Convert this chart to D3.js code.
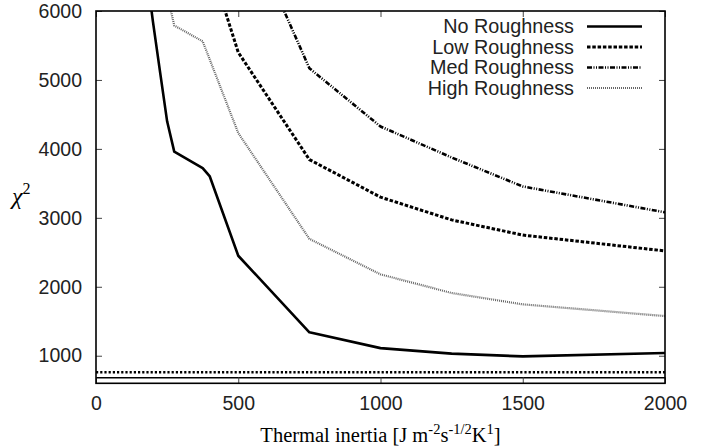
<!DOCTYPE html>
<html>
<head>
<meta charset="utf-8">
<script src="https://cdn.jsdelivr.net/npm/d3@7"></script>
<style>
  body { margin: 0; background: #fff; }
  svg { display: block; }
</style>
</head>
<body>
<svg id="chart" width="718" height="448"></svg>
<script>
var width = 718, height = 448

// chi^2 vs thermal inertia, one array per roughness case
var noRough = [[175, 6650], [200, 5850], [225, 5120], [250, 4400], [275, 3960], [375, 3720], [400, 3600],
  [500, 2450], [750, 1340], [1000, 1110], [1250, 1030], [1500, 990], [2000, 1040]]
var lowRough = [[400, 6700], [500, 5400], [750, 3845], [1000, 3300], [1250, 2970], [1500, 2750], [2000, 2520]]
var medRough = [[600, 6570], [750, 5170], [1000, 4325], [1250, 3875], [1500, 3455], [2000, 3080]]
var highRough = [[250, 6250], [275, 5790], [375, 5560], [500, 4230], [750, 2695], [1000, 2180],
  [1250, 1910], [1500, 1745], [2000, 1575]]

var seriesNames = ['No Roughness', 'Low Roughness', 'Med Roughness', 'High Roughness']
var refLevels = [760, 680]   // horizontal lines near the bottom

var xTicks = [0, 500, 1000, 1500, 2000]
var yTicks = [1000, 2000, 3000, 4000, 5000, 6000]

var styles = [
  { stroke: '#000', width: 2.6, dash: null },
  { stroke: '#000', width: 3, dash: '3.5,1.8' },
  { stroke: '#000', width: 2.6, dash: '5,1.5,1,1.5,1,1.5' },
  { stroke: '#666', width: 2.2, dash: '1,1' }
]
var refStyles = [
  { stroke: '#000', width: 2.6, dash: '2.2,2' },
  { stroke: '#000', width: 1.6, dash: null }
]

// plot box (window.top is reserved, so use other names)
var pLeft = 96, pRight = 665, pTop = 11, pBottom = 383.3

var x = d3.scaleLinear().domain([0, 2000]).range([pLeft, pRight])
var y = d3.scaleLinear().domain([600, 6000]).range([pBottom, pTop])

var svg = d3.select('#chart')

svg.append('defs').append('clipPath').attr('id', 'plot')
  .append('rect')
  .attr('x', pLeft).attr('y', pTop)
  .attr('width', pRight - pLeft).attr('height', pBottom - pTop)

var line = d3.line()
  .x(function(d) { return x(d[0]) })
  .y(function(d) { return y(d[1]) })

var g = svg.append('g').attr('clip-path', 'url(#plot)')

// reference lines
g.selectAll('line.ref')
  .data(refLevels)
  .enter()
  .append('line')
  .attr('class', 'ref')
  .attr('x1', x(0)).attr('x2', x(2000))
  .attr('y1', function(d) { return y(d) })
  .attr('y2', function(d) { return y(d) })
  .attr('stroke', function(d, i) { return refStyles[i].stroke })
  .attr('stroke-width', function(d, i) { return refStyles[i].width })
  .attr('stroke-dasharray', function(d, i) { return refStyles[i].dash })

var allSeries = [noRough, lowRough, medRough, highRough]

g.selectAll('path.curve')
  .data(allSeries)
  .enter()
  .append('path')
  .attr('class', 'curve')
  .attr('d', line)
  .attr('fill', 'none')
  .attr('stroke', function(d, i) { return styles[i].stroke })
  .attr('stroke-width', function(d, i) { return styles[i].width })
  .attr('stroke-dasharray', function(d, i) { return styles[i].dash })
  .attr('stroke-linejoin', 'round')

// axes, ticks pointing inward, mirrored on top/right
var tickLen = 6
var axisG = svg.append('g')

axisG.append('g')
  .attr('transform', 'translate(0,' + pBottom + ')')
  .call(d3.axisBottom(x).tickValues(xTicks).tickSize(-tickLen).tickPadding(13).tickFormat(d3.format('d')))
axisG.append('g')
  .attr('transform', 'translate(0,' + pTop + ')')
  .call(d3.axisTop(x).tickValues(xTicks).tickSize(-tickLen).tickFormat(''))
axisG.append('g')
  .attr('transform', 'translate(' + pLeft + ',0)')
  .call(d3.axisLeft(y).tickValues(yTicks).tickSize(-tickLen).tickPadding(14).tickFormat(d3.format('d')))
axisG.append('g')
  .attr('transform', 'translate(' + pRight + ',0)')
  .call(d3.axisRight(y).tickValues(yTicks).tickSize(-tickLen).tickFormat(''))

axisG.selectAll('.domain').remove()
axisG.selectAll('.tick line').attr('stroke', '#444').attr('stroke-width', 1)
axisG.selectAll('.tick text')
  .attr('font-family', 'Liberation Sans, Arial, sans-serif')
  .attr('font-size', '19.5px')
  .attr('fill', '#222')

svg.append('rect')
  .attr('x', pLeft).attr('y', pTop)
  .attr('width', pRight - pLeft).attr('height', pBottom - pTop)
  .attr('fill', 'none')
  .attr('stroke', '#000')
  .attr('stroke-width', 1.6)

// legend
var legend = svg.append('g')
  .selectAll('g')
  .data(seriesNames)
  .enter()
  .append('g')
  .attr('transform', function(d, i) { return 'translate(0,' + (26.5 + i * 20.5) + ')' })

legend.append('text')
  .attr('x', 574)
  .attr('dy', '0.35em')
  .attr('text-anchor', 'end')
  .attr('font-family', 'Liberation Sans, Arial, sans-serif')
  .attr('font-size', '19.8px')
  .attr('fill', '#222')
  .text(function(d) { return d })

legend.append('line')
  .attr('x1', 587).attr('x2', 642)
  .attr('stroke', function(d, i) { return styles[i].stroke })
  .attr('stroke-width', function(d, i) { return styles[i].width })
  .attr('stroke-dasharray', function(d, i) { return styles[i].dash })

// axis titles
var xt = svg.append('text')
  .attr('x', (pLeft + pRight) / 2)
  .attr('y', 441.5)
  .attr('text-anchor', 'middle')
  .attr('font-family', 'Liberation Serif, Times New Roman, serif')
  .attr('font-size', '20.5px')
  .attr('fill', '#000')
xt.append('tspan').text('Thermal inertia [J m')
xt.append('tspan').attr('dy', -8).attr('font-size', '14.5px').text('-2')
xt.append('tspan').attr('dy', 8).text('s')
xt.append('tspan').attr('dy', -8).attr('font-size', '14.5px').text('-1/2')
xt.append('tspan').attr('dy', 8).text('K')
xt.append('tspan').attr('dy', -8).attr('font-size', '14.5px').text('1')
xt.append('tspan').attr('dy', 8).text(']')

var yt = svg.append('text')
  .attr('x', 12)
  .attr('y', 204)
  .attr('font-family', 'Liberation Serif, Times New Roman, serif')
  .attr('font-size', '24px')
  .attr('fill', '#000')
yt.append('tspan').attr('font-style', 'italic').text('\u03c7')
yt.append('tspan').attr('dy', -10).attr('font-size', '16px').text('2')
</script>
</body>
</html>
